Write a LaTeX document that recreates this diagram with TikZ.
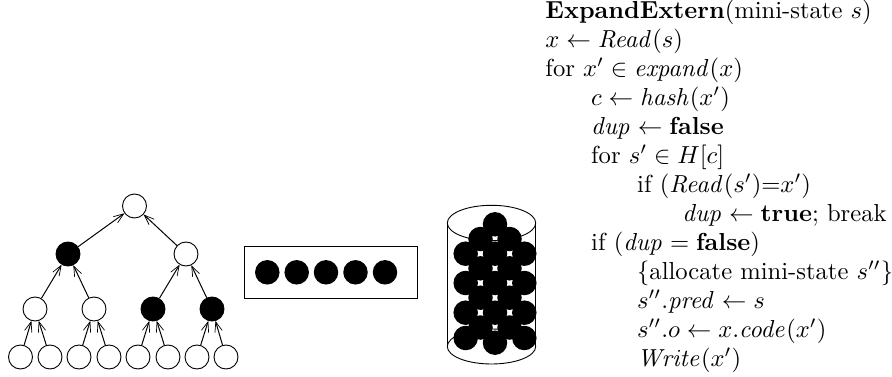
\documentclass[tikz,border=0pt]{standalone}
\usetikzlibrary{arrows.meta}
\tikzset{
  wn/.style={circle,draw=black,line width=0.9pt,fill=white,minimum size=24pt,inner sep=0pt},
  bn/.style={circle,draw=black,line width=0.9pt,fill=black,minimum size=24pt,inner sep=0pt},
  ball/.style={circle,fill=black,minimum size=24.5pt,inner sep=0pt},
  edge/.style={line width=1pt,-{Straight Barb[length=10pt,width=7.5pt,line width=0.7pt]}},
  txt/.style={anchor=base west,inner sep=0pt,scale=2.46}
}
\begin{document}
\begin{tikzpicture}[x=1pt,y=-1pt]
\useasboundingbox (0,0) rectangle (892,377);
% tree
\node[wn] (r) at (134.5,206) {};
\node[bn] (a) at (68,254) {};
\node[wn] (b) at (186,254) {};
\node[wn] (c1) at (35,309) {};
\node[wn] (c2) at (94,309) {};
\node[bn] (c3) at (153,309) {};
\node[bn] (c4) at (212,309) {};
\foreach \n/\x in {1/20.5,2/50,3/79,4/109,5/138,6/168,7/197,8/226}
  \node[wn] (d\n) at (\x,357) {};
\draw[edge] (a) -- (r);
\draw[edge] (b) -- (r);
\draw[edge] (c1) -- (a);
\draw[edge] (c2) -- (a);
\draw[edge] (c3) -- (b);
\draw[edge] (c4) -- (b);
\draw[edge] (d1) -- (c1);
\draw[edge] (d2) -- (c1);
\draw[edge] (d3) -- (c2);
\draw[edge] (d4) -- (c2);
\draw[edge] (d5) -- (c3);
\draw[edge] (d6) -- (c3);
\draw[edge] (d7) -- (c4);
\draw[edge] (d8) -- (c4);
% buffer
\node[draw=black,line width=0.9pt,minimum width=173pt,minimum height=51.5pt,inner sep=0pt] (buf) at (331.2,272.3) {};
\foreach \x in {267.3,296.7,326,355.5,385}
  \node[ball] at (\x,272.3) {};
% cylinder
\draw[line width=0.9pt] (491.5,223) ellipse [x radius=44.2,y radius=17.7];
\draw[line width=0.9pt] (491.5,346.5) ellipse [x radius=44.2,y radius=17.5];
\draw[line width=0.9pt] (447.3,223) -- (447.3,346.5);
\draw[line width=0.9pt] (535.7,223) -- (535.7,346.5);
\foreach \x/\y in {495/224.3,480.5/239,509.5/239,465.7/253.7,495/253.7,524.3/253.7,480.5/268.3,509.5/268.3,465.7/283,495/283,524.3/283,480.5/297.7,509.5/297.7,465.7/312.7,495/312.7,524.3/312.7,480.5/327.5,509.5/327.5,465.7/338,495/342.7,524.3/338}
  \node[ball] at (\x,\y) {};
% text
\node[txt] (l1) at (545,18.5) {\textbf{ExpandExtern}(mini-state $s$)};
\node[txt] (l2) at (545,47.5) {$x\leftarrow \mathit{Read}(s)$};
\node[txt] (l3) at (545,76.5) {for $x'\in \mathit{expand}(x)$};
\node[txt] (l4) at (590.7,105.5) {$c\leftarrow \mathit{hash}(x')$};
\node[txt] (l5) at (590.7,134.5) {$\mathit{dup}\leftarrow \textbf{false}$};
\node[txt] (l6) at (590.7,163.5) {for $s'\in H[c]$};
\node[txt] (l7) at (636.7,192.5) {if $(\mathit{Read}(s'){=}x')$};
\node[txt] (l8) at (682,221.5) {$\mathit{dup}\leftarrow \textbf{true}$; break};
\node[txt] (l9) at (590.7,250.5) {if $(\mathit{dup}=\textbf{false})$};
\node[txt] (l10) at (636.7,279.5) {$\{$allocate mini-state $s''\}$};
\node[txt] (l11) at (636.7,308.5) {$s''.\mathit{pred}\leftarrow s$};
\node[txt] (l12) at (636.7,337.5) {$s''.o\leftarrow x.\mathit{code}(x')$};
\node[txt] (l13) at (636.7,366.5) {$\mathit{Write}(x')$};
\end{tikzpicture}
\end{document}
